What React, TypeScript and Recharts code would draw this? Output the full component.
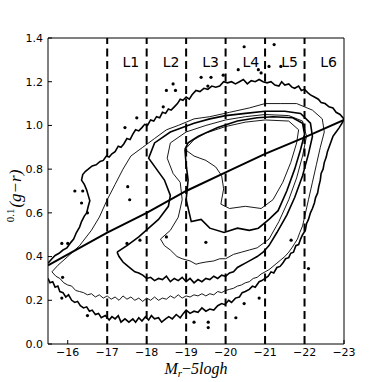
import React from "react";
import {
  ComposedChart,
  Scatter,
  XAxis,
  YAxis,
  ReferenceLine,
} from "recharts";

// magnitude ticks and colour ticks
const magTicks = [-16, -17, -18, -19, -20, -21, -22, -23];
const colorTicks = [0, 0.2, 0.4, 0.6, 0.8, 1.0, 1.2, 1.4];
const binEdges = [-17, -18, -19, -20, -21, -22];

const binLabels = [
  { x: -17.6, y: 1.29, label: "L1" },
  { x: -18.62, y: 1.29, label: "L2" },
  { x: -19.62, y: 1.29, label: "L3" },
  { x: -20.64, y: 1.29, label: "L4" },
  { x: -21.62, y: 1.29, label: "L5" },
  { x: -22.61, y: 1.29, label: "L6" },
];

// fitted divider between red sequence and blue cloud
const dividerLine: [number, number][] = [
  [-15.5, 0.36], [-17, 0.51], [-18, 0.6], [-19, 0.7],
  [-20, 0.785], [-21, 0.87], [-22, 0.945], [-23, 1.025],
];

// contour levels, outermost first
const contourA: [number, number][] = [
  [-15.5, 0.3], [-15.55, 0.28], [-15.62, 0.285], [-15.68, 0.26], [-15.75, 0.265],
  [-15.8, 0.24], [-15.88, 0.235], [-15.95, 0.215], [-16.02, 0.225], [-16.1, 0.2],
  [-16.18, 0.19], [-16.25, 0.195], [-16.32, 0.175], [-16.4, 0.165], [-16.48, 0.17],
  [-16.55, 0.15], [-16.62, 0.155], [-16.7, 0.135], [-16.78, 0.14], [-16.85, 0.12],
  [-16.95, 0.13], [-17.05, 0.11], [-17.12, 0.125], [-17.2, 0.115], [-17.28, 0.13],
  [-17.35, 0.1], [-17.45, 0.115], [-17.55, 0.1], [-17.65, 0.115], [-17.72, 0.1],
  [-17.8, 0.12], [-17.88, 0.105], [-17.97, 0.125], [-18.05, 0.11], [-18.12, 0.13],
  [-18.2, 0.115], [-18.3, 0.12], [-18.38, 0.1], [-18.48, 0.115], [-18.56, 0.125],
  [-18.65, 0.115], [-18.75, 0.135], [-18.85, 0.12], [-18.93, 0.14], [-19.0, 0.155],
  [-19.1, 0.14], [-19.2, 0.15], [-19.3, 0.145], [-19.4, 0.165], [-19.5, 0.15],
  [-19.6, 0.16], [-19.7, 0.155], [-19.8, 0.175], [-19.9, 0.185], [-19.98, 0.18],
  [-20.08, 0.2], [-20.15, 0.19], [-20.25, 0.21], [-20.35, 0.215], [-20.42, 0.235],
  [-20.5, 0.24], [-20.6, 0.25], [-20.68, 0.265], [-20.75, 0.26], [-20.85, 0.285],
  [-20.92, 0.29], [-21.0, 0.3], [-21.08, 0.31], [-21.15, 0.33], [-21.22, 0.325],
  [-21.3, 0.35], [-21.38, 0.355], [-21.45, 0.37], [-21.52, 0.39], [-21.6, 0.395],
  [-21.65, 0.415], [-21.72, 0.42], [-21.78, 0.45], [-21.85, 0.455], [-21.9, 0.48],
  [-21.95, 0.5], [-22.02, 0.52], [-22.05, 0.55], [-22.1, 0.57], [-22.15, 0.6],
  [-22.2, 0.62], [-22.25, 0.645], [-22.28, 0.67], [-22.33, 0.69], [-22.36, 0.72],
  [-22.4, 0.75], [-22.42, 0.78], [-22.47, 0.8], [-22.5, 0.83], [-22.55, 0.855],
  [-22.58, 0.88], [-22.63, 0.905], [-22.68, 0.93], [-22.72, 0.95], [-22.8, 0.97],
  [-22.88, 0.99], [-22.95, 1.01], [-23.0, 1.03],
  [-22.9, 1.05], [-22.8, 1.06], [-22.72, 1.08], [-22.62, 1.085], [-22.52, 1.1],
  [-22.42, 1.105], [-22.35, 1.12], [-22.25, 1.13], [-22.15, 1.14], [-22.08, 1.15],
  [-22.0, 1.165], [-21.92, 1.16], [-21.85, 1.18], [-21.75, 1.17], [-21.68, 1.175],
  [-21.6, 1.19], [-21.5, 1.185], [-21.42, 1.2], [-21.35, 1.18], [-21.25, 1.185],
  [-21.15, 1.2], [-21.05, 1.195], [-20.95, 1.2], [-20.85, 1.21], [-20.75, 1.2],
  [-20.65, 1.205], [-20.55, 1.19], [-20.45, 1.21], [-20.35, 1.2], [-20.25, 1.19],
  [-20.15, 1.2], [-20.05, 1.195], [-19.95, 1.2], [-19.85, 1.18], [-19.75, 1.175],
  [-19.65, 1.18], [-19.55, 1.165], [-19.45, 1.17], [-19.35, 1.155], [-19.25, 1.16],
  [-19.15, 1.14], [-19.08, 1.12], [-19.0, 1.13], [-18.92, 1.115], [-18.85, 1.12],
  [-18.78, 1.1], [-18.7, 1.085], [-18.62, 1.07], [-18.55, 1.075], [-18.48, 1.055],
  [-18.4, 1.06], [-18.33, 1.035], [-18.25, 1.04], [-18.18, 1.02], [-18.1, 1.025],
  [-18.02, 1.0], [-17.95, 1.005], [-17.88, 0.99], [-17.8, 0.975], [-17.72, 0.98],
  [-17.65, 0.96], [-17.58, 0.935], [-17.5, 0.94], [-17.42, 0.915], [-17.35, 0.9],
  [-17.28, 0.905], [-17.2, 0.88], [-17.12, 0.87], [-17.05, 0.855], [-16.98, 0.86],
  [-16.9, 0.84], [-16.82, 0.835], [-16.72, 0.82], [-16.62, 0.815], [-16.52, 0.8],
  [-16.45, 0.79], [-16.38, 0.775], [-16.35, 0.75], [-16.42, 0.73], [-16.48, 0.705],
  [-16.52, 0.68], [-16.56, 0.655], [-16.52, 0.63], [-16.48, 0.6], [-16.42, 0.585],
  [-16.35, 0.56], [-16.3, 0.535], [-16.22, 0.51], [-16.15, 0.48], [-16.08, 0.465],
  [-15.98, 0.44], [-15.88, 0.43], [-15.78, 0.415], [-15.68, 0.405], [-15.6, 0.39],
  [-15.5, 0.37],
];

const contourB: [number, number][] = [
  [-15.6, 0.33], [-15.7, 0.31], [-15.8, 0.3], [-15.9, 0.28], [-16.0, 0.27],
  [-16.1, 0.265], [-16.2, 0.245], [-16.3, 0.24], [-16.4, 0.235], [-16.5, 0.225],
  [-16.6, 0.23], [-16.7, 0.215], [-16.8, 0.225], [-16.9, 0.21], [-17.0, 0.22],
  [-17.1, 0.205], [-17.2, 0.215], [-17.3, 0.2], [-17.4, 0.22], [-17.5, 0.205],
  [-17.6, 0.215], [-17.7, 0.2], [-17.8, 0.21], [-17.9, 0.195], [-18.0, 0.21],
  [-18.1, 0.2], [-18.2, 0.215], [-18.3, 0.2], [-18.4, 0.21], [-18.5, 0.205],
  [-18.6, 0.22], [-18.7, 0.21], [-18.8, 0.225], [-18.9, 0.21], [-19.0, 0.22],
  [-19.1, 0.215], [-19.2, 0.225], [-19.3, 0.22], [-19.4, 0.23], [-19.5, 0.22],
  [-19.6, 0.23], [-19.7, 0.225], [-19.8, 0.24], [-19.9, 0.235], [-20.0, 0.245],
  [-20.1, 0.25], [-20.2, 0.255], [-20.3, 0.265], [-20.4, 0.27], [-20.5, 0.28],
  [-20.6, 0.285], [-20.7, 0.3], [-20.8, 0.305], [-20.9, 0.32], [-21.0, 0.33],
  [-21.1, 0.34], [-21.2, 0.355], [-21.3, 0.37], [-21.4, 0.385], [-21.5, 0.4],
  [-21.6, 0.42], [-21.68, 0.44], [-21.75, 0.46], [-21.82, 0.48], [-21.88, 0.51],
  [-21.95, 0.54], [-22.0, 0.58], [-22.1, 0.66], [-22.2, 0.74], [-22.3, 0.82],
  [-22.4, 0.9], [-22.5, 0.97], [-22.45, 1.03], [-22.2, 1.07], [-21.8, 1.1],
  [-21.4, 1.1], [-21.0, 1.1], [-20.6, 1.08], [-20.1, 1.06], [-19.6, 1.04],
  [-19.2, 1.03], [-18.8, 1.0], [-18.5, 0.98], [-18.2, 0.94], [-17.9, 0.9],
  [-17.6, 0.86], [-17.4, 0.8], [-17.2, 0.73], [-17.0, 0.66], [-16.8, 0.58],
  [-16.6, 0.52], [-16.3, 0.45], [-16.0, 0.4], [-15.75, 0.36], [-15.6, 0.33],
];

const contourC: [number, number][] = [
  [-17.25, 0.42], [-17.5, 0.45], [-17.8, 0.49], [-18.05, 0.53], [-18.3, 0.57],
  [-18.55, 0.63], [-18.6, 0.68], [-18.45, 0.75], [-18.25, 0.8], [-18.05, 0.85],
  [-18.2, 0.92], [-18.6, 0.97], [-19.2, 1.01], [-19.6, 1.03], [-20.0, 1.045],
  [-20.5, 1.055], [-21.0, 1.065], [-21.5, 1.065], [-21.9, 1.055], [-22.15, 1.01],
  [-22.2, 0.95], [-22.1, 0.87], [-21.95, 0.77], [-21.75, 0.67], [-21.55, 0.59],
  [-21.3, 0.51], [-21.1, 0.45], [-20.95, 0.42], [-20.8, 0.4], [-20.65, 0.385],
  [-20.5, 0.37], [-20.4, 0.36], [-20.3, 0.35], [-20.2, 0.33], [-20.1, 0.325],
  [-20.0, 0.31], [-19.9, 0.315], [-19.8, 0.3], [-19.7, 0.31], [-19.6, 0.295],
  [-19.5, 0.3], [-19.4, 0.285], [-19.3, 0.295], [-19.2, 0.28], [-19.1, 0.3],
  [-19.0, 0.285], [-18.9, 0.305], [-18.8, 0.29], [-18.7, 0.3], [-18.6, 0.285],
  [-18.5, 0.31], [-18.4, 0.295], [-18.3, 0.3], [-18.2, 0.29], [-18.1, 0.305],
  [-18.0, 0.3], [-17.9, 0.315], [-17.8, 0.325], [-17.7, 0.33], [-17.6, 0.345],
  [-17.5, 0.36], [-17.4, 0.375], [-17.3, 0.4], [-17.25, 0.42],
];

const contourD: [number, number][] = [
  [-18.35, 0.48], [-18.45, 0.45], [-18.6, 0.43], [-18.77, 0.4], [-18.9, 0.39],
  [-19.1, 0.38], [-19.25, 0.365], [-19.35, 0.37], [-19.5, 0.375], [-19.7, 0.38],
  [-19.85, 0.39], [-20.0, 0.39], [-20.2, 0.41], [-20.4, 0.42], [-20.6, 0.43],
  [-20.8, 0.44], [-21.1, 0.48], [-21.35, 0.56], [-21.6, 0.66], [-21.8, 0.76],
  [-21.95, 0.86], [-22.05, 0.95], [-21.95, 1.02], [-21.6, 1.045], [-21.0, 1.05],
  [-20.5, 1.04], [-20.0, 1.025], [-19.5, 1.0], [-19.0, 0.97], [-18.6, 0.92],
  [-18.52, 0.85], [-18.67, 0.78], [-18.85, 0.74], [-18.9, 0.66], [-18.8, 0.58],
  [-18.6, 0.52], [-18.35, 0.48],
];

const contourE: [number, number][] = [
  [-18.97, 0.89], [-19.0, 0.82], [-19.05, 0.75], [-19.0, 0.66], [-19.13, 0.56],
  [-19.38, 0.57], [-19.6, 0.53], [-19.96, 0.51], [-20.3, 0.53], [-20.6, 0.52],
  [-20.83, 0.53], [-21.1, 0.57], [-21.33, 0.61], [-21.55, 0.7], [-21.75, 0.8],
  [-21.9, 0.89], [-22.0, 0.96], [-21.95, 1.01], [-21.7, 1.035], [-21.2, 1.04],
  [-20.8, 1.035], [-20.3, 1.02], [-19.8, 0.99], [-19.3, 0.95], [-19.05, 0.92],
  [-18.97, 0.89],
];

const contourF: [number, number][] = [
  [-18.97, 0.89], [-19.2, 0.86], [-19.5, 0.84], [-19.75, 0.81], [-19.9, 0.77],
  [-19.95, 0.71], [-19.88, 0.64], [-20.1, 0.62], [-20.5, 0.63], [-20.9, 0.62],
  [-21.2, 0.66], [-21.45, 0.74], [-21.65, 0.83], [-21.8, 0.92], [-21.85, 0.98],
  [-21.6, 1.02], [-21.0, 1.025], [-20.5, 1.015], [-20.0, 0.995], [-19.5, 0.965],
  [-19.2, 0.935], [-18.97, 0.89],
];

// isolated tiny contour islands
const islands: [number, number][] = [
  [-18.67, 1.19], [-18.5, 1.16], [-18.73, 1.16], [-18.42, 1.085], [-17.75, 1.035],
  [-17.45, 0.99], [-16.18, 0.7], [-16.38, 0.7], [-16.35, 0.645], [-16.5, 0.6],
  [-15.85, 0.46], [-16.0, 0.46], [-15.87, 0.305], [-15.85, 0.21], [-16.5, 0.13],
  [-17.5, 0.46], [-17.83, 0.475], [-18.5, 0.49], [-17.52, 0.72], [-17.57, 0.66],
  [-20.47, 1.36], [-21.23, 1.37], [-19.63, 1.22], [-19.94, 1.23], [-20.32, 1.255],
  [-21.1, 1.27], [-21.4, 1.27], [-19.38, 1.22], [-19.55, 1.18], [-20.83, 1.255],
  [-20.9, 1.24], [-19.5, 0.465], [-19.56, 0.1], [-19.56, 0.075], [-20.26, 0.12],
  [-19.2, 0.1], [-20.85, 0.21], [-20.47, 0.185], [-22.1, 0.345], [-21.66, 0.475],
];

const toPts = (arr: [number, number][]) => arr.map(([x, y]) => ({ x, y }));

const noShape = () => <g />;
const islandShape = (p: any) => <circle cx={p.cx} cy={p.cy} r={1.6} fill="#000" />;
const labelShape = (p: any) => (
  <text
    x={p.cx}
    y={p.cy}
    textAnchor="middle"
    dominantBaseline="central"
    fontSize={14}
    fontFamily="DejaVu Sans"
    fill="#000"
  >
    {p.payload.label}
  </text>
);

const contours = [
  { data: contourA, w: 1.6 },
  { data: contourB, w: 0.9 },
  { data: contourC, w: 1.6 },
  { data: contourD, w: 0.9 },
  { data: contourE, w: 1.6 },
  { data: contourF, w: 0.9 },
];

const minus = (v: number) => String(v).replace("-", "\u2212");
const tickFont = { fontSize: 11, fontFamily: "DejaVu Sans", fill: "#000" };

export default function App() {
  return (
    <div style={{ position: "absolute", left: 0, top: 0, width: 382, height: 382, background: "#fff" }}>
      <ComposedChart width={382} height={382} margin={{ top: 37, right: 37, bottom: 0, left: 0 }}>
        <XAxis
          xAxisId="x"
          dataKey="x"
          type="number"
          domain={[-23, -15.5]}
          reversed
          allowDataOverflow
          ticks={magTicks}
          interval={0}
          height={38}
          tickSize={-4}
          tickMargin={8}
          tick={tickFont}
          tickFormatter={minus}
          stroke="#000"
        />
        <XAxis
          xAxisId="top"
          dataKey="x"
          type="number"
          orientation="top"
          domain={[-23, -15.5]}
          reversed
          allowDataOverflow
          ticks={magTicks}
          interval={0}
          height={1}
          tickSize={-4}
          tick={false}
          stroke="#000"
        />
        <YAxis
          yAxisId="y"
          dataKey="y"
          type="number"
          domain={[0, 1.4]}
          allowDataOverflow
          ticks={colorTicks}
          interval={0}
          width={48}
          tickSize={-4}
          tickMargin={9}
          tick={tickFont}
          tickFormatter={(v: number) => v.toFixed(1)}
          stroke="#000"
        />
        <YAxis
          yAxisId="right"
          dataKey="y"
          type="number"
          orientation="right"
          domain={[0, 1.4]}
          allowDataOverflow
          ticks={colorTicks}
          interval={0}
          width={1}
          tickSize={-4}
          tick={false}
          stroke="#000"
        />
        {contours.map((c, i) => (
          <Scatter
            key={i}
            xAxisId="x"
            yAxisId="y"
            data={toPts(c.data)}
            line={{ stroke: "#000", strokeWidth: c.w }}
            shape={noShape}
            isAnimationActive={false}
          />
        ))}
        <Scatter
          xAxisId="x"
          yAxisId="y"
          data={toPts(islands)}
          shape={islandShape}
          isAnimationActive={false}
        />
        <Scatter
          xAxisId="x"
          yAxisId="y"
          data={toPts(dividerLine)}
          line={{ stroke: "#000", strokeWidth: 2 }}
          shape={noShape}
          isAnimationActive={false}
        />
        {binEdges.map((m) => (
          <ReferenceLine
            key={m}
            xAxisId="x"
            yAxisId="y"
            x={m}
            stroke="#000"
            strokeWidth={2}
            strokeDasharray="8 4.5"
          />
        ))}
        <Scatter
          xAxisId="x"
          yAxisId="y"
          data={binLabels}
          shape={labelShape}
          isAnimationActive={false}
        />
      </ComposedChart>
      <svg
        width={382}
        height={382}
        style={{ position: "absolute", left: 0, top: 0, pointerEvents: "none" }}
      >
        <text
          x={196}
          y={374}
          textAnchor="middle"
          fontFamily="Liberation Serif"
          fontStyle="italic"
          fontSize={16}
          fill="#000"
        >
          M
          <tspan fontSize={11} dy={3}>r</tspan>
          <tspan dy={-3} fontStyle="normal">{"\u2212"}</tspan>
          5logh
        </text>
        <text
          x={15}
          y={196}
          transform="rotate(-90, 15, 196)"
          textAnchor="middle"
          dominantBaseline="central"
          fontFamily="Liberation Serif"
          fill="#000"
        >
          <tspan fontSize={11} dy={-5}>0.1</tspan>
          <tspan fontSize={17} fontStyle="italic" dx={1} dy={5}>(g{"\u2212"}r)</tspan>
        </text>
      </svg>
    </div>
  );
}
